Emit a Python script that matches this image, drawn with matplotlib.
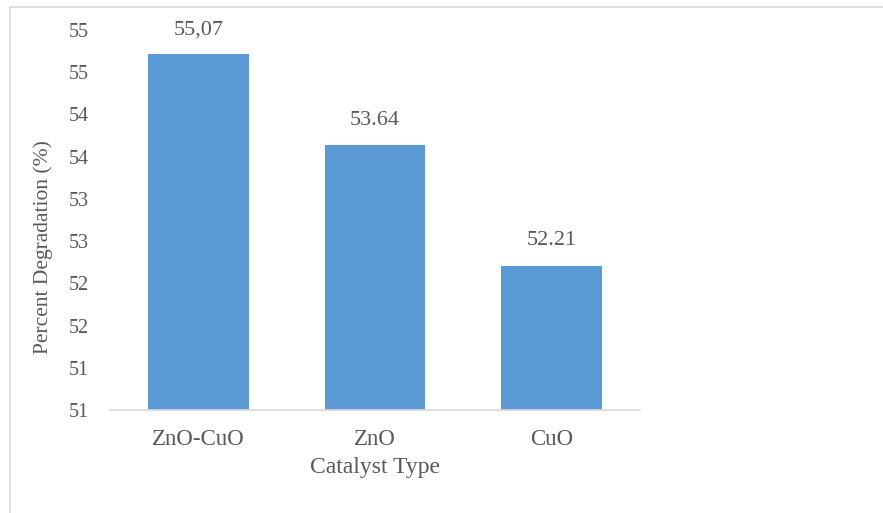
import matplotlib.pyplot as plt
from matplotlib.lines import Line2D

# data
catalysts = ["ZnO-CuO", "ZnO", "CuO"]
degradation = [54.71, 53.64, 52.21]
value_labels = ["55,07", "53.64", "52.21"]
y_ticks = [50.5, 51.0, 51.5, 52.0, 52.5, 53.0, 53.5, 54.0, 54.5, 55.0]
y_tick_labels = ["51", "51", "52", "52", "53", "53", "54", "54", "55", "55"]

text_color = "#595959"
bar_color = "#5B9BD5"

plt.rcParams["font.family"] = ["Liberation Serif", "DejaVu Serif"]

fig = plt.figure(figsize=(8.83, 5.13), dpi=100)
ax = fig.add_axes([110 / 883, 103 / 513, 530 / 883, 380 / 513])

bars = ax.bar(range(len(catalysts)), degradation, width=0.57, color=bar_color)

for bar, lab in zip(bars, value_labels):
    ax.annotate(lab, (bar.get_x() + bar.get_width() / 2, bar.get_height()),
                xytext=(0, 11), textcoords="offset points",
                ha="center", va="bottom", fontsize=16, color=text_color)

ax.set_xlim(-0.5, len(catalysts) - 0.5)
ax.set_ylim(50.5, 55.0)
ax.set_yticks(y_ticks)
ax.set_yticklabels(y_tick_labels, fontsize=14.5)
ax.set_xticks(range(len(catalysts)))
ax.set_xticklabels(catalysts, fontsize=16.5)
ax.tick_params(axis="both", length=0, labelcolor=text_color)
ax.tick_params(axis="y", pad=15)
ax.tick_params(axis="x", pad=14)

for side in ["top", "right", "left"]:
    ax.spines[side].set_visible(False)
ax.spines["bottom"].set_color("#D9D9D9")
ax.spines["bottom"].set_linewidth(1.2)

ax.set_xlabel("Catalyst Type", fontsize=17, color=text_color, labelpad=5)
ax.set_ylabel("Percent Degradation (%)", fontsize=15.5, color=text_color)
ax.yaxis.set_label_coords(-0.108, 0.43)

# chart area border (cropped on the right and bottom)
fig.add_artist(Line2D([10 / 883, 1], [1 - 7 / 513, 1 - 7 / 513],
                      transform=fig.transFigure, color="#D9D9D9", lw=1.2))
fig.add_artist(Line2D([10 / 883, 10 / 883], [0, 1 - 7 / 513],
                      transform=fig.transFigure, color="#D9D9D9", lw=1.2))

fig.savefig("out.png", dpi=100)
